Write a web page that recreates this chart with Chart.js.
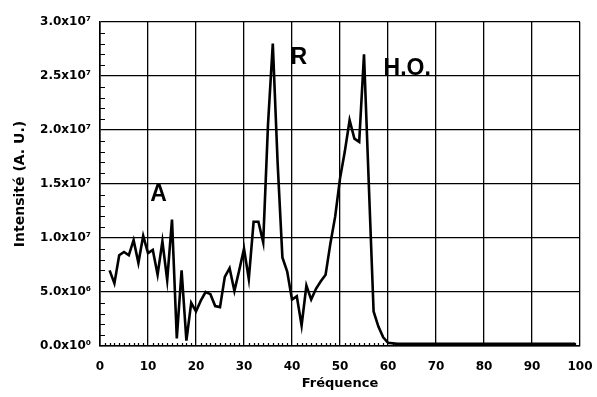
<!DOCTYPE html>
<html>
<head>
<meta charset="utf-8">
<script src="https://cdn.jsdelivr.net/npm/chart.js@4"></script>
<style>
  html, body { margin: 0; padding: 0; background: #fff; }
  #wrap { width: 597px; height: 397px; }
</style>
</head>
<body>
<div id="wrap"><canvas id="spectre"></canvas></div>
<script>
// values
const freq = [2, 3, 4, 5, 6, 7, 8, 9, 10, 11, 12, 13, 14, 15, 16, 17, 18, 19, 20,
  21, 22, 23, 24, 25, 26, 27, 28, 29, 30, 31, 32, 33, 34, 35, 36, 37, 38, 39, 40,
  41, 42, 43, 44, 45, 46, 47, 48, 49, 50, 51, 52, 53, 54, 55, 56, 57, 58, 59, 60,
  62, 65, 70, 75, 80, 85, 90, 95, 99];
const intensity = [7.0e6, 5.8e6, 8.4e6, 8.7e6, 8.4e6, 9.8e6, 7.7e6, 10.2e6, 8.6e6, 8.9e6,
  6.6e6, 9.7e6, 6.1e6, 11.7e6, 0.7e6, 7.0e6, 0.5e6, 4.0e6, 3.2e6,
  4.2e6, 5.0e6, 4.8e6, 3.7e6, 3.6e6, 6.4e6, 7.2e6, 5.1e6, 7.0e6, 9.0e6,
  6.2e6, 11.5e6, 11.5e6, 9.6e6, 20.5e6, 28.0e6, 17.0e6, 8.2e6, 6.9e6, 4.3e6,
  4.6e6, 1.9e6, 5.6e6, 4.3e6, 5.3e6, 6.0e6, 6.6e6, 9.5e6, 12.0e6, 15.5e6,
  18.0e6, 20.9e6, 19.2e6, 18.9e6, 27.0e6, 15.0e6, 3.2e6, 1.8e6, 0.8e6, 0.3e6,
  0.2e6, 0.2e6, 0.2e6, 0.2e6, 0.2e6, 0.2e6, 0.2e6, 0.2e6, 0.2e6];

const yTickLabels = ['0.0x10\u2070', '5.0x10\u2076', '1.0x10\u2077', '1.5x10\u2077',
  '2.0x10\u2077', '2.5x10\u2077', '3.0x10\u2077'];
const xTickLabels = ['0', '10', '20', '30', '40', '50', '60', '70', '80', '90', '100'];

// peak labels
const peakNames = ['A', 'R', 'H.O.'];
const peakX = [12.2, 41.4, 64.0];
const peakY = [14.0e6, 26.7e6, 25.7e6];

// small inner ticks + peak names
const extras = {
  id: 'extras',
  afterDraw(chart) {
    const ctx = chart.ctx;
    const xs = chart.scales.x, ys = chart.scales.y;
    const area = chart.chartArea;
    ctx.save();
    ctx.strokeStyle = '#000';
    ctx.lineWidth = 1.2;
    ctx.beginPath();
    for (let v = 1e6; v < 3e7; v += 1e6) {
      if (Math.round(v / 1e6) % 5 === 0) continue;
      const py = Math.round(ys.getPixelForValue(v)) + 0.5;
      ctx.moveTo(area.left, py);
      ctx.lineTo(area.left + 5, py);
    }
    for (let v = 1; v < 100; v++) {
      if (v % 10 === 0) continue;
      const px = Math.round(xs.getPixelForValue(v)) + 0.5;
      ctx.moveTo(px, area.bottom);
      ctx.lineTo(px, area.bottom - 3);
    }
    ctx.stroke();

    ctx.fillStyle = '#000';
    ctx.font = 'bold 23px "Liberation Sans", Arial, sans-serif';
    ctx.textAlign = 'center';
    ctx.textBaseline = 'middle';
    for (let i = 0; i < peakNames.length; i++) {
      ctx.fillText(peakNames[i], xs.getPixelForValue(peakX[i]), ys.getPixelForValue(peakY[i]));
    }
    ctx.restore();
  }
};

const points = freq.map((f, i) => ({ x: f, y: intensity[i] }));

new Chart(document.getElementById('spectre'), {
  type: 'line',
  data: {
    datasets: [{
      data: points,
      borderColor: '#000',
      borderWidth: 2.6,
      pointRadius: 0,
      tension: 0,
      fill: false
    }]
  },
  options: {
    responsive: true,
    maintainAspectRatio: false,
    animation: false,
    layout: { padding: { top: 22, right: 17, left: 12, bottom: 0 } },
    plugins: {
      legend: { display: false },
      tooltip: { enabled: false }
    },
    scales: {
      x: {
        type: 'linear',
        min: 0,
        max: 100,
        ticks: {
          stepSize: 10,
          color: '#000',
          font: { family: 'DejaVu Sans', weight: 'bold', size: 12 },
          padding: 14,
          maxRotation: 0,
          callback: (v, i) => xTickLabels[i]
        },
        grid: { color: '#000', lineWidth: 1.3, drawTicks: false },
        border: { color: '#000', width: 1.6 },
        title: {
          display: true,
          text: 'Fréquence',
          color: '#000',
          font: { family: 'DejaVu Sans', weight: 'bold', size: 13 },
          padding: { top: 2, bottom: 6 }
        },
        afterFit: s => {
          s.height = 51;
          s.paddingLeft = 0;
          s.paddingRight = 0;
        }
      },
      y: {
        min: 0,
        max: 3e7,
        ticks: {
          stepSize: 5e6,
          color: '#000',
          font: { family: 'DejaVu Sans', weight: 'bold', size: 12 },
          padding: 9,
          callback: (v, i) => yTickLabels[i]
        },
        grid: { color: '#000', lineWidth: 1.3, drawTicks: false },
        border: { color: '#000', width: 1.6 },
        title: {
          display: true,
          text: 'Intensité (A. U.)',
          color: '#000',
          font: { family: 'DejaVu Sans', weight: 'bold', size: 14 },
          padding: { top: 0, bottom: 4 }
        },
        afterFit: s => {
          s.width = 88;
          s.paddingTop = 0;
          s.paddingBottom = 0;
        }
      }
    }
  },
  plugins: [extras]
});
</script>
</body>
</html>
